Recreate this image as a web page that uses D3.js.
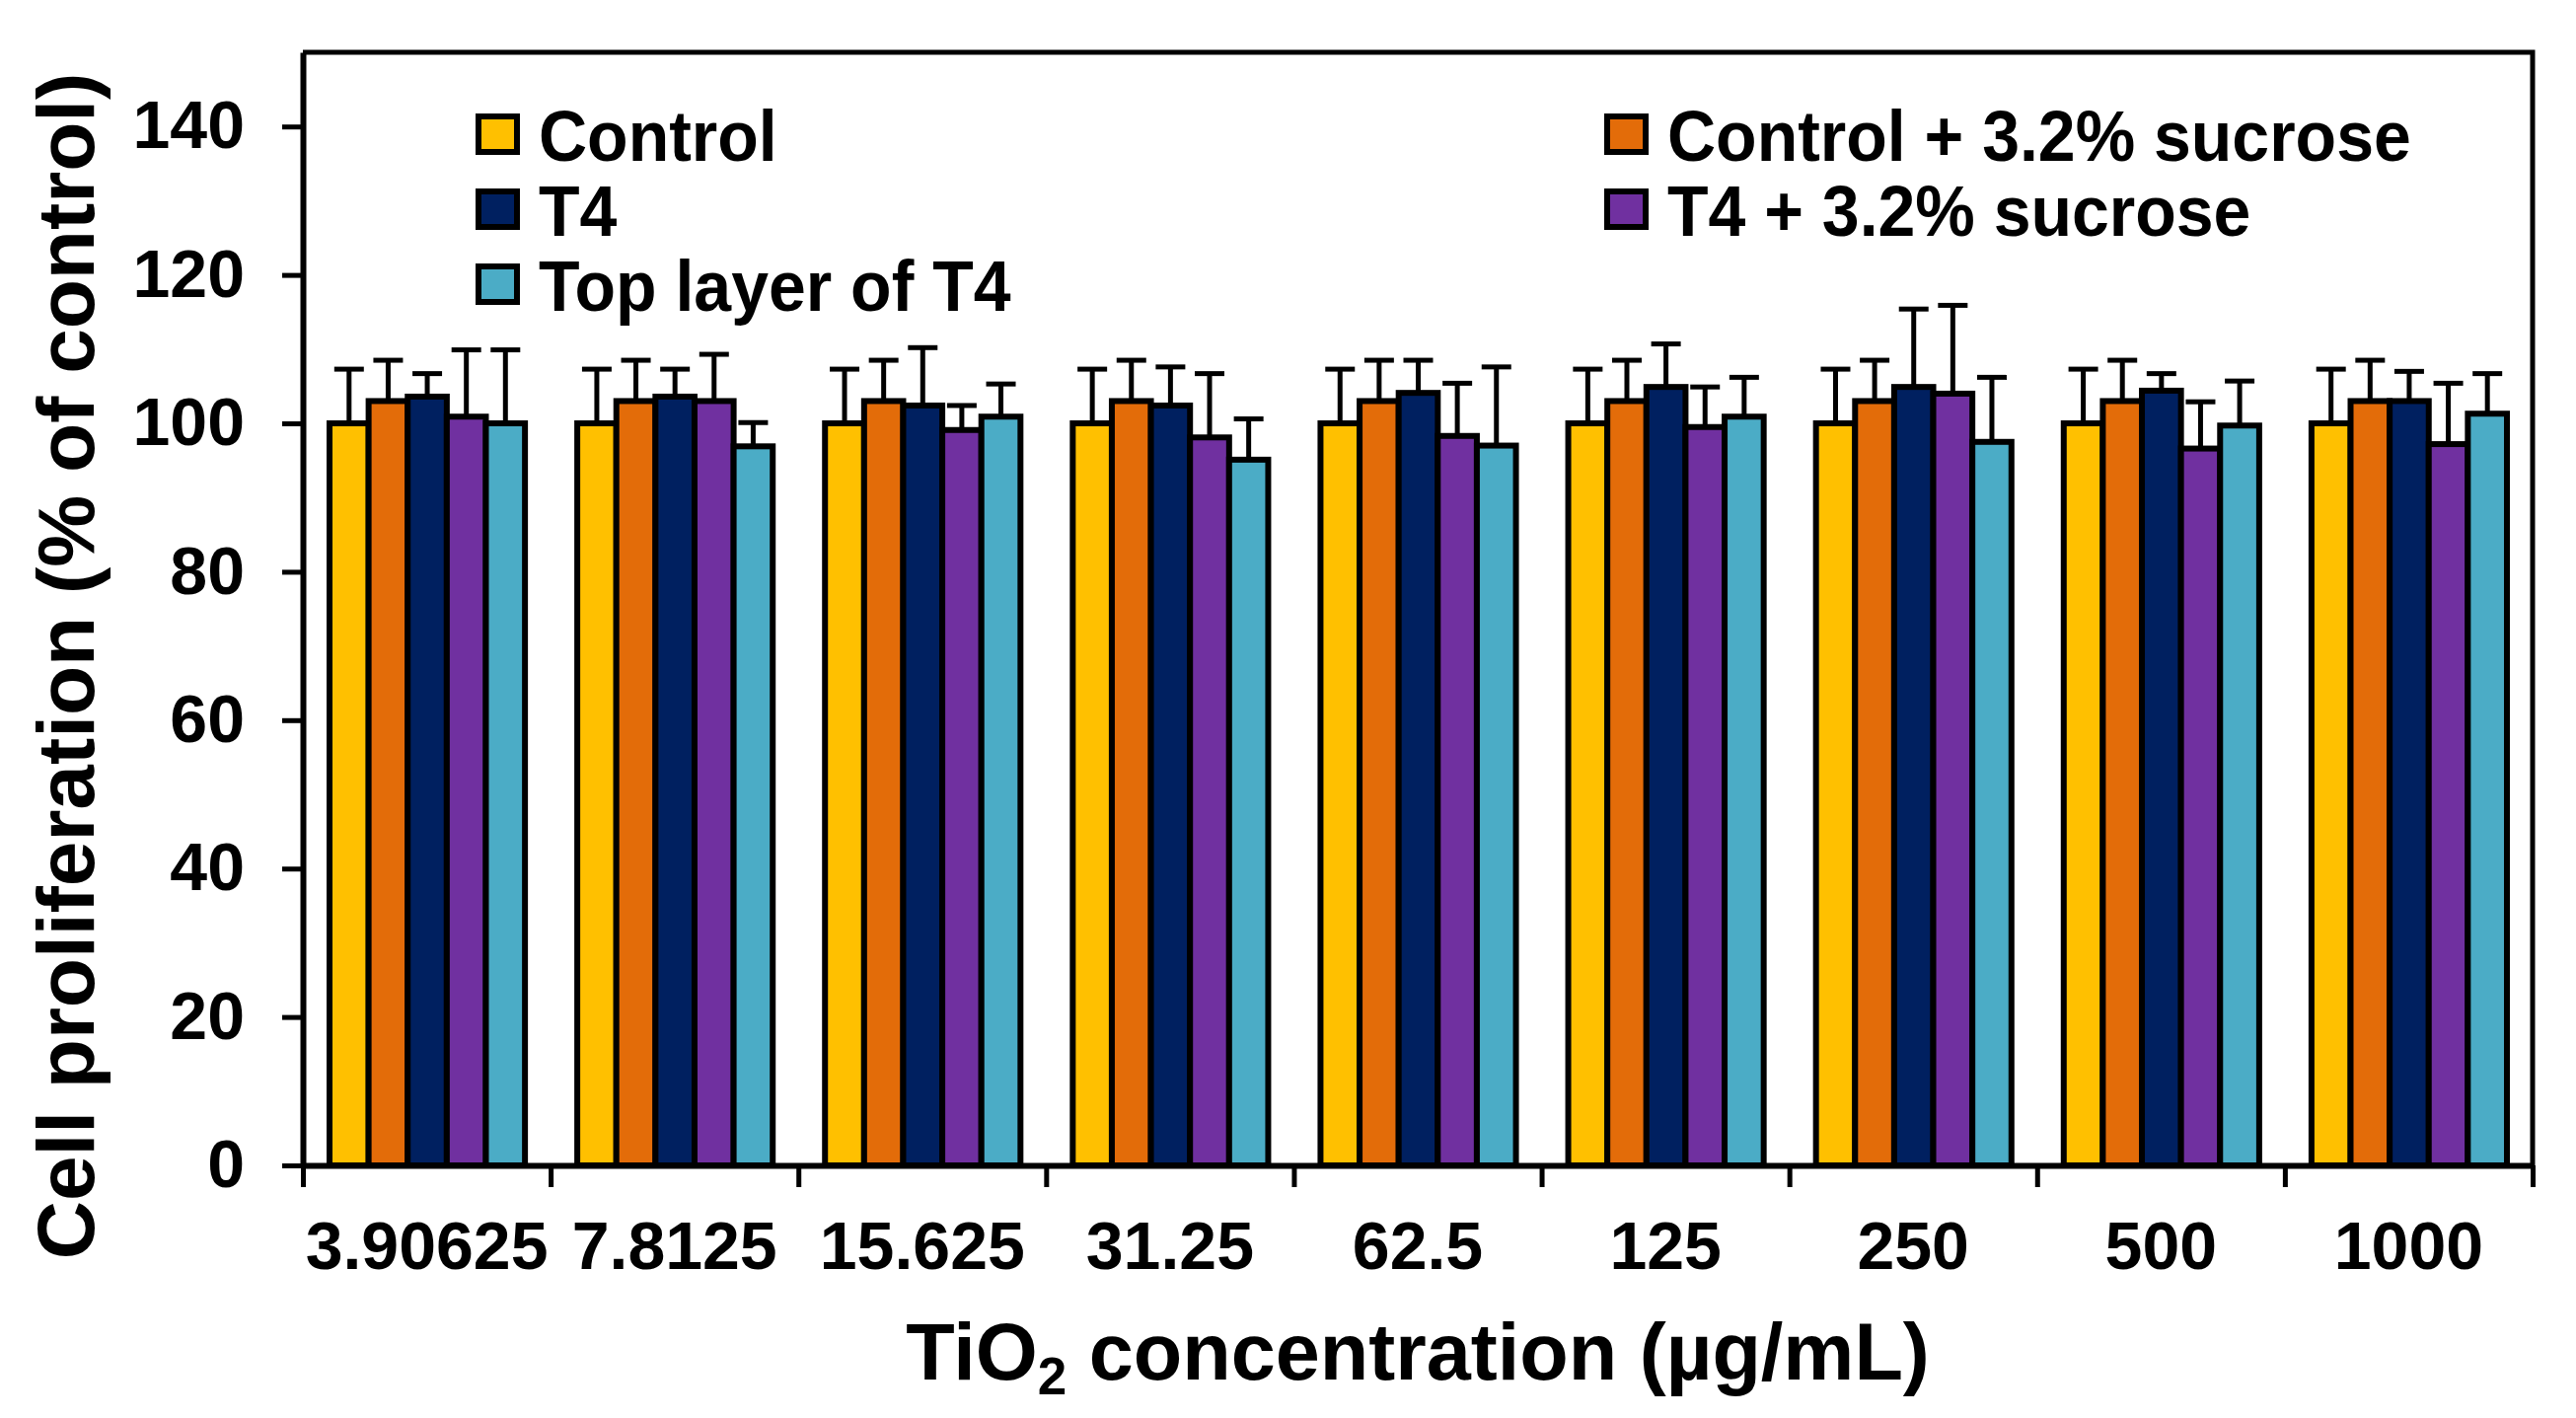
<!DOCTYPE html>
<html>
<head>
<meta charset="utf-8">
<script src="https://cdn.jsdelivr.net/npm/d3@7"></script>
<style>
  body { margin: 0; background: #fff; }
  svg { overflow: visible; }
</style>
</head>
<body>
<svg width="2611" height="1437"></svg>
<script>
  // concentrations (µg/mL)
  const categories = ['3.90625', '7.8125', '15.625', '31.25', '62.5', '125', '250', '500', '1000'];

  const seriesNames = ['Control', 'Control + 3.2% sucrose', 'T4', 'T4 + 3.2% sucrose', 'Top layer of T4'];
  const seriesColors = ['#FFC000', '#E36C09', '#002060', '#7030A0', '#4BACC6'];

  // means
  const control    = [100, 100, 100, 100, 100, 100, 100, 100, 100];
  const controlSuc = [103, 103, 103, 103, 103, 103, 103, 103, 103];
  const t4         = [103.6, 103.6, 102.4, 102.4, 104.1, 104.9, 104.9, 104.4, 103.0];
  const t4Suc      = [100.9, 103.0, 99.1, 98.1, 98.3, 99.5, 104.0, 96.6, 97.2];
  const topLayer   = [100.0, 96.9, 100.9, 95.1, 97.0, 100.9, 97.5, 99.7, 101.3];

  // error (SD, upper only)
  const controlErr    = [7.3, 7.3, 7.3, 7.3, 7.3, 7.3, 7.3, 7.3, 7.3];
  const controlSucErr = [5.5, 5.5, 5.5, 5.5, 5.5, 5.5, 5.5, 5.5, 5.5];
  const t4Err         = [3.1, 3.7, 7.8, 5.2, 4.4, 5.8, 10.5, 2.3, 4.0];
  const t4SucErr      = [9.0, 6.3, 3.3, 8.6, 7.1, 5.4, 11.9, 6.3, 8.2];
  const topLayerErr   = [9.9, 3.2, 4.4, 5.5, 10.6, 5.3, 8.7, 6.0, 5.4];

  const yTicks = [0, 20, 40, 60, 80, 100, 120, 140];

  const means = [control, controlSuc, t4, t4Suc, topLayer];
  const errs = [controlErr, controlSucErr, t4Err, t4SucErr, topLayerErr];

  const font = '"Liberation Sans", Arial, sans-serif';

  const svg = d3.select('svg');
  const width = +svg.attr('width');
  const height = +svg.attr('height');
  const margin = { top: 53, right: 44, bottom: 256, left: 307 };
  const innerWidth = width - margin.left - margin.right;
  const innerHeight = height - margin.top - margin.bottom;

  const g = svg.append('g')
    .attr('transform', `translate(${margin.left},${margin.top})`);

  const xScale = d3.scaleBand()
    .domain(categories)
    .range([0, innerWidth]);

  const xInner = d3.scaleBand()
    .domain(d3.range(seriesNames.length))
    .range([27, xScale.bandwidth() - 26]);

  const yScale = d3.scaleLinear()
    .domain([0, 150])
    .range([innerHeight, 0]);

  // flatten into bar records
  const bars = [];
  categories.forEach((c, i) => {
    means.forEach((s, j) => {
      bars.push({ cat: c, series: j, value: s[i], err: errs[j][i] });
    });
  });

  const barMid = d => xScale(d.cat) + xInner(d.series) + xInner.bandwidth() / 2;

  // error bars first (behind bars)
  const capW = 30;
  const eb = g.selectAll('.err').data(bars).enter().append('g')
    .attr('class', 'err')
    .attr('stroke', '#000')
    .attr('stroke-width', 5);
  eb.append('line')
    .attr('x1', barMid)
    .attr('x2', barMid)
    .attr('y1', d => yScale(d.value))
    .attr('y2', d => yScale(d.value + d.err));
  eb.append('line')
    .attr('x1', d => barMid(d) - capW / 2)
    .attr('x2', d => barMid(d) + capW / 2)
    .attr('y1', d => yScale(d.value + d.err))
    .attr('y2', d => yScale(d.value + d.err));

  g.selectAll('.bar').data(bars).enter().append('rect')
    .attr('class', 'bar')
    .attr('x', d => xScale(d.cat) + xInner(d.series))
    .attr('width', xInner.bandwidth())
    .attr('y', d => yScale(d.value))
    .attr('height', d => yScale(0) - yScale(d.value))
    .attr('fill', d => seriesColors[d.series])
    .attr('stroke', '#000')
    .attr('stroke-width', 6);

  // frame (top and right)
  g.append('path')
    .attr('d', `M0,0H${innerWidth}V${innerHeight}`)
    .attr('fill', 'none')
    .attr('stroke', '#000')
    .attr('stroke-width', 5);

  // y axis
  const yAxisG = g.append('g')
    .call(d3.axisLeft(yScale).tickValues(yTicks).tickSize(21).tickPadding(38).tickSizeOuter(0));
  yAxisG.selectAll('.domain').attr('stroke-width', 6);
  yAxisG.selectAll('.tick line').attr('stroke-width', 5);
  yAxisG.selectAll('.tick text')
    .attr('font-size', 68)
    .attr('font-weight', 'bold')
    .attr('font-family', font);

  // x axis: ticks at category boundaries
  const xEdge = d3.scaleLinear().domain([0, categories.length]).range([0, innerWidth]);
  const xAxisG = g.append('g')
    .attr('transform', `translate(0,${innerHeight})`)
    .call(d3.axisBottom(xEdge).ticks(categories.length).tickSize(22).tickSizeOuter(0));
  xAxisG.selectAll('.domain').attr('stroke-width', 6);
  xAxisG.selectAll('.tick line').attr('stroke-width', 5);
  xAxisG.selectAll('.tick text').remove();

  g.append('g').selectAll('text').data(categories).enter().append('text')
    .attr('x', d => xScale(d) + xScale.bandwidth() / 2)
    .attr('y', innerHeight + 105)
    .attr('text-anchor', 'middle')
    .attr('font-family', font)
    .attr('font-weight', 'bold')
    .attr('font-size', 68)
    .text(d => d);

  // axis titles
  const xTitle = svg.append('text')
    .attr('x', margin.left + innerWidth / 2)
    .attr('y', 1398)
    .attr('text-anchor', 'middle')
    .attr('font-family', font)
    .attr('font-weight', 'bold')
    .attr('font-size', 81);
  xTitle.append('tspan').text('TiO');
  xTitle.append('tspan').attr('font-size', 53).attr('dy', 15).text('2');
  xTitle.append('tspan').attr('dy', -15).text(' concentration (µg/mL)');

  svg.append('text')
    .attr('transform', `translate(95,675) rotate(-90)`)
    .attr('text-anchor', 'middle')
    .attr('font-family', font)
    .attr('font-weight', 'bold')
    .attr('font-size', 82)
    .text('Cell proliferation (% of control)');

  // legend
  const legendPos = [
    { x: 485, row: 0 }, { x: 1629, row: 0 },
    { x: 485, row: 1 }, { x: 1629, row: 1 },
    { x: 485, row: 2 }
  ];
  const legend = svg.selectAll('.legend').data(seriesNames).enter().append('g')
    .attr('class', 'legend')
    .attr('transform', (d, i) => `translate(${legendPos[i].x},${118 + legendPos[i].row * 76})`);
  legend.append('rect')
    .attr('width', 39)
    .attr('height', 36)
    .attr('fill', (d, i) => seriesColors[i])
    .attr('stroke', '#000')
    .attr('stroke-width', 6);
  legend.append('text')
    .attr('transform', 'translate(61,45) scale(1,1.07)')
    .attr('font-family', font)
    .attr('font-weight', 'bold')
    .attr('font-size', 68)
    .text(d => d);
</script>
</body>
</html>
